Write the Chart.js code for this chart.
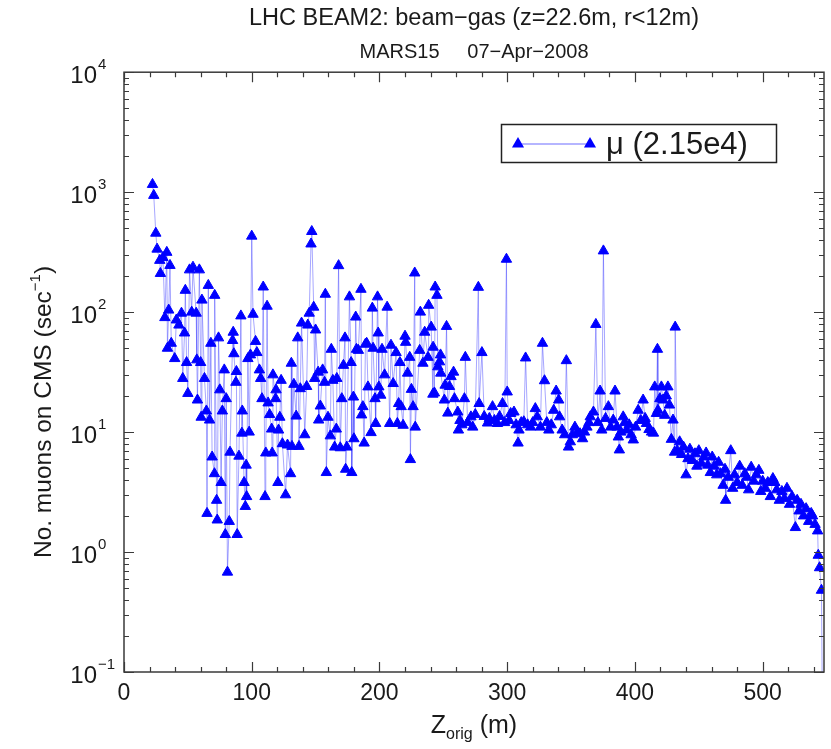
<!DOCTYPE html>
<html>
<head>
<meta charset="utf-8">
<script src="https://cdn.jsdelivr.net/npm/chart.js@4.4.0/dist/chart.umd.min.js"></script>
<style>
  html, body { margin: 0; padding: 0; background: #ffffff; }
  #wrap { width: 831px; height: 749px; position: relative; }
</style>
</head>
<body>
<div id="wrap"><canvas id="c" width="831" height="749"></canvas></div>
<script>
// ---- data ----
const zOrig = [
  22.3,23.3,24.9,25.9,28,28.5,30.5,32,33.5,34,35,36,37,39.7,41,43,45,46,47.4,48,49,50,51.3,53,54,56.5,57,57.5,59,60,60.4,61,63,64.5,65,66,67,68,69,70.8,71,72.5,73,74,75,76,77,78.5,79.3,80,81,82.4,83,85,85.5,86,87.6,88,88.6,90,91.5,92.3,92.6,94,95,95.6,96,97,98,99,
  100,101,103,104,106,107,108,109,110.4,111,112,112.8,114,115.6,116,116.6,118.7,119,120.5,121,122,123,124,126.5,128,130.4,131,131.5,133,134.8,136,137,138,139,141.5,143,143.9,145,146.4,147,148.5,149.3,150,152,152.4,153.7,155.5,157,157.6,158.4,159.7,161.5,162.3,163.5,164.9,166.2,166.6,168,169.3,170.5,171.8,173,173.5,174.4,176.5,177.8,178.3,179.6,180,181.4,182,183.5,185.5,186,187,188,189,190,191,193.4,194.4,195,196.5,197,198.5,199,199.5,
  201,202,204,206,208,209,210.7,213,214,215,216,217,218.5,220,220.5,222,223.7,224.2,225,226.3,227.6,228,231.5,232,234,235.4,238,238.5,240.5,241.8,242,243,243.6,245,245.7,247,247.8,248,250.8,251.4,252.5,253.5,254.8,256,258,258.7,261.3,261.8,263,264.5,266.5,267.2,269,271.6,273,275,277.4,278,280.2,282,284.6,286,288.5,290,292.4,294,296.3,298,299.4,
  300,301.5,302.7,305.3,307,308.5,309.2,311,313,314.4,316,318.3,320,322,323.5,326,327.6,329.2,331,332.6,334.5,336.4,338.3,340.3,341,343,345,346.3,348,349.4,351,353,355,357,359,360.5,362.4,364,365,367.5,369.4,371,372.7,374,375.3,377,379.2,381,383,384.4,386,387,387.8,389,390.8,392,393.5,395.5,397,398.7,
  400.5,402.5,404.5,406.4,408,409,411,413,414.5,415.5,416.8,417.6,418,419.5,420.7,422,423.3,424.5,425.8,427,428.5,429.8,431,431.5,433,435,436.5,438,440,441.5,443,445,447,448.5,450,452,454,455.7,457,459,460.5,462,464,465.5,467,469,470.5,471,473,475,476.5,478,480,482,484,486,487.5,489,491,493,495,497,498.5,
  500,502,504,506,508,509.5,511,513,515,517,519,521,523,525.6,527,528.5,530,532,534,536,538,539,541,543,543.5,544.5,546,547
];
const muRate = [
  1160,940,455,335,270,210,285,90,315,50,104,245,55,41,86,78,98,28,67,152,38,21,225,100,237,98,40,18.5,225,38,13.3,126,28,15,2.1,167,12.6,55,6.2,4.5,138,2.7,1.85,61,22.5,3.8,15,33,1.4,19,0.68,1.8,6.8,58,68,45,26,32,1.4,6.3,93,9.8,15,3.8,2.4,5.3,2.9,41,10,44,
  430,96,57,46,33,28,19,162,2.9,6.7,112,17.5,14,10.6,6.7,30,19,22.5,3.8,10.4,13.3,27,8,3,7.8,4.5,37.5,7.6,25,13.6,61,7.6,23,81,9.5,24,78,98,370,470,110,28,71,31.6,12.6,16.5,33,26,141,4.6,13.3,9.3,49,27,7.5,10.6,28,244,7.4,19,36,61,4.9,7.5,134,38,4.6,19.6,8.8,91,49,48,155,13.9,16.3,8.1,54,55,23.8,9.9,108,50,19,11.8,134,67,23.8,
  20.3,49,30,110,11.8,53,25.4,46,11.8,17.3,38,16.3,11.4,63,56,31,42,5.9,22.7,16.3,212,11,48,100,37.5,68,42,114,75,20.7,51,21.2,162,138,35,38.5,44,31,18.5,24.6,76,14.4,24,29,31.6,19,14.7,10.4,12.5,11.5,19,42,12,13.4,11,14,161,17.3,46,13.5,11.9,13,16.3,12.5,11.8,13.5,17.3,12,276,
  21.6,12.5,14.3,14.7,11.5,8.1,10.4,12,12.2,41.5,11.5,11,12,15.7,13.4,11,55,26.8,12,10.4,11.5,15.2,22,18.5,13.4,10.4,9.5,39.4,7.5,8.3,9.5,11,10,9.7,8.8,10,11,12,13.4,14.7,79,12,22,10.4,324,13,16.3,11,12.6,22,11,9.1,7.1,10,13.4,12,10.4,11.5,9.5,8.6,
  11,15.2,12.5,18.5,13,11.8,10.5,10,9.8,23.8,14.3,49,15.2,19,23.8,18.5,13.8,20,23.8,16.8,8.7,12.6,6.8,75,7,8.3,6.5,7.5,4.4,6,7.2,5.8,6.6,5.2,7,5.5,6.2,6.7,5.3,4.6,6.2,5.2,4.4,5.6,4.5,3.6,4.9,2.7,4.2,7,3.4,4.4,3.8,5.2,3.6,4.5,4.2,3.3,5.1,3.9,4.4,4.8,3.2,
  3.9,3.4,3.8,2.9,4.1,3.8,3.3,2.7,3.2,2.8,3.4,2.5,2.9,1.6,2.7,2.2,2.5,2.0,2.3,1.8,2.1,2.0,1.7,1.5,0.94,0.74,0.48,0.02
];
const xTickValues = [0, 100, 200, 300, 400, 500];
const yDecades = [-1, 0, 1, 2, 3, 4];
const seriesLabel = 'μ (2.15e4)';
const titleText = 'LHC BEAM2: beam−gas (z=22.6m, r<12m)';
const subtitleText = 'MARS15     07−Apr−2008';

const X_MIN = 0, X_MAX = 548, Y_MIN = 0.1, Y_MAX = 10000;
const FONT = '"Liberation Sans", Arial, sans-serif';
const TXT = '#1a1a1a';
const BLUE = '#0000ff';

function triangle(ctx, x, y, r) {
  ctx.beginPath();
  ctx.moveTo(x, y - r);
  ctx.lineTo(x + Math.sin(2*Math.PI/3) * r, y + r/2);
  ctx.lineTo(x - Math.sin(2*Math.PI/3) * r, y + r/2);
  ctx.closePath();
  ctx.fill();
}

const framePlugin = {
  id: 'framePlugin',
  afterDraw(chart) {
    const { ctx, chartArea: a, scales: { x, y } } = chart;
    ctx.save();
    // frame
    ctx.strokeStyle = '#3a3a3a';
    ctx.lineWidth = 1.5;
    ctx.strokeRect(a.left, a.top, a.right - a.left, a.bottom - a.top);
    ctx.lineWidth = 1.2;
    // x ticks (inward, bottom and top)
    for (let v = X_MIN; v <= X_MAX; v += 20) {
      const px = Math.round(x.getPixelForValue(v)) + 0.5;
      const len = (v % 100 === 0) ? 10 : 5;
      ctx.beginPath();
      ctx.moveTo(px, a.bottom); ctx.lineTo(px, a.bottom - len);
      ctx.moveTo(px, a.top); ctx.lineTo(px, a.top + len);
      ctx.stroke();
    }
    // y ticks (inward, left and right)
    for (const e of yDecades) {
      for (let m = 1; m <= 9; m++) {
        const val = m * Math.pow(10, e);
        if (val > Y_MAX * 1.0001) break;
        const py = Math.round(y.getPixelForValue(val)) + 0.5;
        const len = (m === 1) ? 10 : 5;
        ctx.beginPath();
        ctx.moveTo(a.left, py); ctx.lineTo(a.left + len, py);
        ctx.moveTo(a.right, py); ctx.lineTo(a.right - len, py);
        ctx.stroke();
      }
    }
    // x tick labels
    ctx.fillStyle = TXT;
    ctx.font = '23px ' + FONT;
    ctx.textAlign = 'center';
    ctx.textBaseline = 'middle';
    for (const v of xTickValues) {
      ctx.fillText(String(v), x.getPixelForValue(v), a.bottom + 22);
    }
    // y tick labels 10^n
    for (const e of yDecades) {
      const py = y.getPixelForValue(Math.pow(10, e));
      ctx.font = '24px ' + FONT;
      ctx.textAlign = 'right';
      ctx.textBaseline = 'middle';
      ctx.fillText('10', a.left - 27, py + 4);
      ctx.font = '15px ' + FONT;
      ctx.textAlign = 'left';
      ctx.fillText(e < 0 ? '−' + Math.abs(e) : String(e), a.left - 26, py - 7);
    }
    // x axis title: Z_orig (m)
    const cx = (a.left + a.right) / 2;
    ctx.textBaseline = 'alphabetic';
    ctx.textAlign = 'left';
    ctx.font = '25px ' + FONT;
    const wZ = ctx.measureText('Z').width;
    const wRest = ctx.measureText(' (m)').width;
    ctx.font = '16px ' + FONT;
    const wSub = ctx.measureText('orig').width;
    let sx = cx - (wZ + wSub + wRest) / 2;
    const base = a.bottom + 61;
    ctx.font = '25px ' + FONT;
    ctx.fillText('Z', sx, base);
    ctx.font = '16px ' + FONT;
    ctx.fillText('orig', sx + wZ, base + 6);
    ctx.font = '25px ' + FONT;
    ctx.fillText(' (m)', sx + wZ + wSub, base);
    // y axis title (rotated)
    ctx.save();
    ctx.translate(51, 412);
    ctx.rotate(-Math.PI / 2);
    ctx.font = '24.5px ' + FONT;
    const t1 = 'No. muons on CMS (sec';
    const w1 = ctx.measureText(t1).width;
    const w3 = ctx.measureText(')').width;
    ctx.font = '15px ' + FONT;
    const w2 = ctx.measureText('−1').width;
    let tx = -(w1 + w2 + w3) / 2;
    ctx.font = '24.5px ' + FONT;
    ctx.fillText(t1, tx, 0);
    ctx.font = '15px ' + FONT;
    ctx.fillText('−1', tx + w1, -11);
    ctx.font = '24.5px ' + FONT;
    ctx.fillText(')', tx + w1 + w2, 0);
    ctx.restore();
    // legend
    const lx = 501, ly = 124, lw = 275, lh = 38;
    ctx.fillStyle = '#ffffff';
    ctx.fillRect(lx, ly, lw, lh);
    ctx.strokeStyle = '#222';
    ctx.lineWidth = 1.5;
    ctx.strokeRect(lx + 0.5, ly + 0.5, lw, lh);
    const my = ly + lh / 2 + 1;
    ctx.strokeStyle = 'rgba(70,70,255,0.8)';
    ctx.lineWidth = 1;
    ctx.beginPath();
    ctx.moveTo(518, my); ctx.lineTo(590, my);
    ctx.stroke();
    ctx.fillStyle = BLUE;
    triangle(ctx, 518, my, 7);
    triangle(ctx, 590, my, 7);
    ctx.fillStyle = TXT;
    ctx.font = '31px ' + FONT;
    ctx.textAlign = 'left';
    ctx.textBaseline = 'middle';
    ctx.fillText(seriesLabel, 606, my + 1);
    ctx.restore();
  }
};

const points = zOrig.map((z, i) => ({ x: z, y: muRate[i] }));

new Chart(document.getElementById('c'), {
  type: 'scatter',
  data: {
    datasets: [{
      label: seriesLabel,
      data: points,
      showLine: true,
      borderColor: 'rgba(60,60,255,0.45)',
      borderWidth: 1,
      pointStyle: 'triangle',
      pointRadius: 6,
      pointBackgroundColor: BLUE,
      pointBorderColor: BLUE,
      pointBorderWidth: 1,
      tension: 0
    }]
  },
  options: {
    responsive: false,
    animation: false,
    devicePixelRatio: 1,
    layout: { padding: { left: 124, right: 2, top: 0, bottom: 77 } },
    scales: {
      x: { type: 'linear', min: X_MIN, max: X_MAX, display: false },
      y: { type: 'logarithmic', min: Y_MIN, max: Y_MAX, display: false }
    },
    plugins: {
      legend: { display: false },
      tooltip: { enabled: false },
      title: {
        display: true, text: titleText, fullSize: false, color: TXT,
        font: { family: FONT, size: 23.5, weight: 'normal', lineHeight: 1.2 },
        padding: { top: 4, bottom: 4 }
      },
      subtitle: {
        display: true, text: subtitleText, fullSize: false, color: TXT,
        font: { family: FONT, size: 20, weight: 'normal', lineHeight: 1.2 },
        padding: { top: 4, bottom: 8 }
      }
    }
  },
  plugins: [framePlugin]
});
</script>
</body>
</html>
